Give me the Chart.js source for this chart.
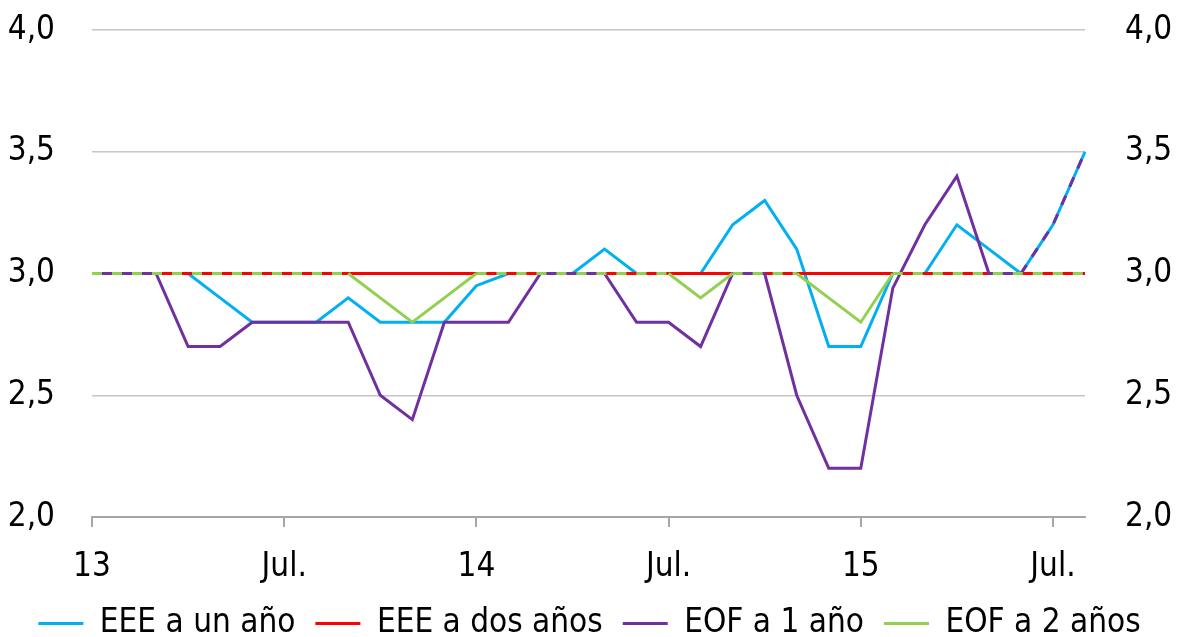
<!DOCTYPE html>
<html>
<head>
<meta charset="utf-8">
<script src="https://cdn.jsdelivr.net/npm/chart.js@4"></script>
<style>
  html, body { margin: 0; padding: 0; background: #fff; overflow: hidden; }
  canvas { display: block; }
</style>
</head>
<body>
<canvas id="chart" width="1179" height="650"></canvas>
<script>
// months Jan 2013 .. Aug 2015
const months = [
    '2013-01', '2013-02', '2013-03', '2013-04', '2013-05', '2013-06', '2013-07', '2013-08', '2013-09', '2013-10', '2013-11', '2013-12',
    '2014-01', '2014-02', '2014-03', '2014-04', '2014-05', '2014-06', '2014-07', '2014-08', '2014-09', '2014-10', '2014-11', '2014-12',
    '2015-01', '2015-02', '2015-03', '2015-04', '2015-05', '2015-06', '2015-07', '2015-08'
];
const tickLabels = ['13', 'Jul.', '14', 'Jul.', '15', 'Jul.'];

const eeeUnAno = [3.0, 3.0, 3.0, 3.0, 2.9, 2.8, 2.8, 2.8, 2.9, 2.8, 2.8, 2.8,
                  2.95, 3.0, 3.0, 3.0, 3.1, 3.0, 3.0, 3.0, 3.2, 3.3, 3.1, 2.7,
                  2.7, 3.0, 3.0, 3.2, 3.1, 3.0, 3.2, 3.5];
const eeeDosAnos = [3.0, 3.0, 3.0, 3.0, 3.0, 3.0, 3.0, 3.0, 3.0, 3.0, 3.0, 3.0,
                    3.0, 3.0, 3.0, 3.0, 3.0, 3.0, 3.0, 3.0, 3.0, 3.0, 3.0, 3.0,
                    3.0, 3.0, 3.0, 3.0, 3.0, 3.0, 3.0, 3.0];
const eof1Ano = [3.0, 3.0, 3.0, 2.7, 2.7, 2.8, 2.8, 2.8, 2.8, 2.5, 2.4, 2.8,
                 2.8, 2.8, 3.0, 3.0, 3.0, 2.8, 2.8, 2.7, 3.0, 3.0, 2.5, 2.2,
                 2.2, 2.94, 3.2, 3.4, 3.0, 3.0, 3.2, 3.5];
const eof2Anos = [3.0, 3.0, 3.0, 3.0, 3.0, 3.0, 3.0, 3.0, 3.0, 2.9, 2.8, 2.9,
                  3.0, 3.0, 3.0, 3.0, 3.0, 3.0, 3.0, 2.9, 3.0, 3.0, 3.0, 2.9,
                  2.8, 3.0, 3.0, 3.0, 3.0, 3.0, 3.0, 3.0];

const FONT = "'DejaVu Sans Condensed', 'DejaVu Sans', sans-serif";

document.addEventListener("DOMContentLoaded", () => {
    const ctx = document.getElementById('chart').getContext('2d');

    const line = (label, data, color, order, extra) => Object.assign({
        label: label,
        data: data,
        borderColor: color,
        backgroundColor: color,
        borderWidth: 3,
        pointRadius: 0,
        tension: 0,
        order: order
    }, extra || {});

    // fixed axis widths, no extra label padding above/below
    const fitY = w => s => { s.width = w; s.paddingTop = 0; s.paddingBottom = 0; };

    new Chart(ctx, {
        type: 'line',
        data: {
            labels: months,
            datasets: [
                line('EEE a un año', eeeUnAno, '#00b0f0', 3),
                line('EEE a dos años', eeeDosAnos, '#ff0000', 2),
                line('EOF a 1 año', eof1Ano, '#7030a0', 1, {
                    segment: {
                        // overlapping with EEE a un año at the end
                        borderDash: s => (s.p0.parsed.y === eeeUnAno[s.p0DataIndex] &&
                            s.p1.parsed.y === eeeUnAno[s.p1DataIndex] &&
                            Math.max(s.p0.parsed.y, s.p1.parsed.y) > 3) ? [10, 10] : undefined
                    }
                }),
                line('EOF a 2 años', eof2Anos, '#92d050', 0, {
                    segment: {
                        borderDash: s => (s.p0.parsed.y === 3 && s.p1.parsed.y === 3) ? [10, 10] : undefined
                    }
                })
            ]
        },
        options: {
            responsive: false,
            animation: false,
            layout: { padding: { top: 30, left: 0, right: 0, bottom: 0 } },
            plugins: {
                tooltip: { enabled: false },
                legend: {
                    position: 'bottom',
                    labels: {
                        font: { family: FONT, size: 33 },
                        color: '#000',
                        usePointStyle: true,
                        pointStyle: 'line',
                        pointStyleWidth: 45,
                        padding: 20,
                        sort: (a, b) => a.datasetIndex - b.datasetIndex
                    }
                }
            },
            scales: {
                x: {
                    offset: false,
                    grid: {
                        drawOnChartArea: false,
                        tickLength: 10,
                        lineWidth: 2,
                        color: c => (c.index % 6 === 0) ? '#a6a6a6' : 'rgba(0,0,0,0)'
                    },
                    border: { color: '#a6a6a6', width: 2 },
                    ticks: {
                        autoSkip: false,
                        maxRotation: 0,
                        padding: 21,
                        color: '#000',
                        font: { family: FONT, size: 33 },
                        callback: (v, i) => (i % 6 === 0) ? tickLabels[i / 6] : ''
                    },
                    afterFit: s => { s.height = 70; }
                },
                y: {
                    position: 'left',
                    min: 2,
                    max: 4,
                    grid: { color: '#c6c6c6', lineWidth: 1.5, drawTicks: false },
                    border: { display: false },
                    ticks: {
                        stepSize: 0.5,
                        padding: 37,
                        color: '#000',
                        font: { family: FONT, size: 33 },
                        callback: v => v.toFixed(1).replace('.', ',')
                    },
                    afterFit: fitY(92)
                },
                y2: {
                    position: 'right',
                    min: 2,
                    max: 4,
                    grid: { drawOnChartArea: false, drawTicks: false },
                    border: { display: false },
                    ticks: {
                        stepSize: 0.5,
                        padding: 40,
                        color: '#000',
                        font: { family: FONT, size: 33 },
                        callback: v => v.toFixed(1).replace('.', ',')
                    },
                    afterFit: fitY(94)
                }
            }
        }
    });
});
</script>
</body>
</html>
